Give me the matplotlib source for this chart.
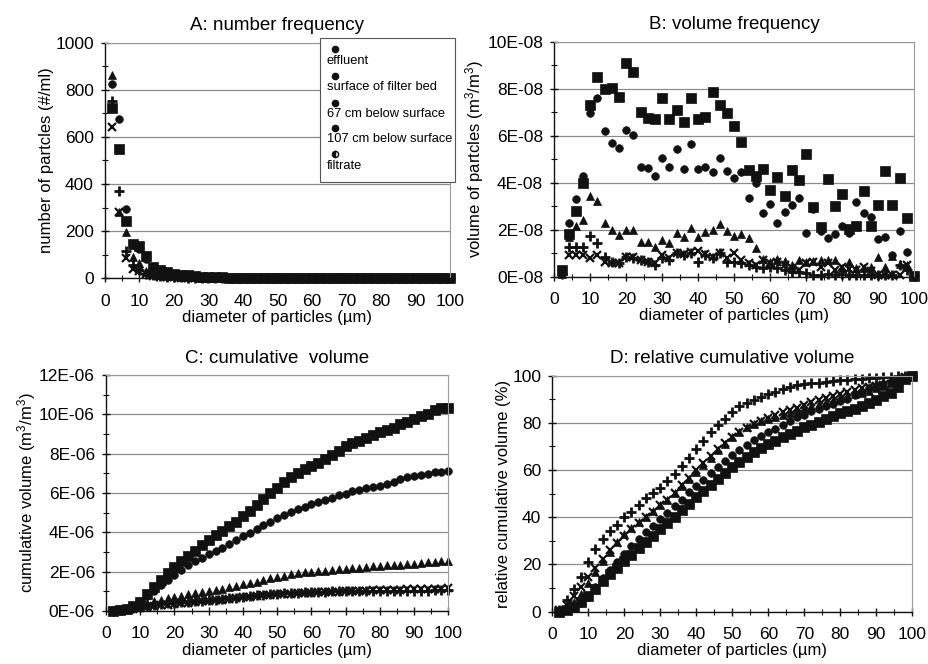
import numpy as np
import matplotlib
matplotlib.use("Agg")
import matplotlib.pyplot as plt
from matplotlib.ticker import MultipleLocator, FuncFormatter
from matplotlib.patches import Rectangle

plt.rcParams['font.family'] = ['Liberation Sans', 'DejaVu Sans']
plt.rcParams['mathtext.fontset'] = 'custom'
plt.rcParams['mathtext.rm'] = 'Liberation Sans'
plt.rcParams['mathtext.default'] = 'regular'

# === data: particle diameter classes (um) ===
diam = [2, 4, 6, 8, 10, 12, 14, 16, 18, 20, 22, 24, 26, 28, 30, 32, 34, 36, 38, 40,
        42, 44, 46, 48, 50, 52, 54, 56, 58, 60, 62, 64, 66, 68, 70, 72, 74, 76, 78, 80,
        82, 84, 86, 88, 90, 92, 94, 96, 98, 100]

series_names = ['effluent', 'surface of filter bed', '67 cm below surface',
                '107 cm below surface', 'filtrate']

# A: number frequency (#/ml)
num_eff = [723, 547, 245, 145, 135, 95, 50, 35, 25, 20, 15, 12, 9, 7, 6, 5, 4, 3, 3, 2.5,
           2, 2, 1.5, 1.5, 1.2, 1, 0.8, 0.7, 0.7, 0.6, 0.5, 0.5, 0.5, 0.4, 0.4, 0.3, 0.3, 0.3, 0.3, 0.3,
           0.2, 0.2, 0.2, 0.2, 0.2, 0.2, 0.2, 0.2, 0.1, 0]
num_surf = [824, 676, 292, 140, 125, 80, 40, 28, 20, 16, 12, 9, 7, 6, 5, 4, 3.5, 3, 2.5, 2,
            1.8, 1.5, 1.3, 1.1, 1, 0.9, 0.7, 0.6, 0.5, 0.5, 0.4, 0.3, 0.3, 0.3, 0.2, 0.2, 0.2, 0.2, 0.2, 0.2,
            0.1, 0.1, 0.1, 0.1, 0.1, 0.1, 0.1, 0.1, 0.1, 0]
num_67 = [863, 280, 195, 90, 65, 30, 20, 14, 10, 8, 6, 5, 4, 3, 2.5, 2, 1.8, 1.5, 1.3, 1.1,
          1, 0.9, 0.8, 0.7, 0.6, 0.5, 0.4, 0.3, 0.3, 0.2, 0.2, 0.2, 0.2, 0.1, 0.1, 0.1, 0.1, 0.1, 0.1, 0.1,
          0.1, 0.1, 0.1, 0.1, 0.1, 0.1, 0.1, 0.1, 0.1, 0]
num_107 = [751, 369, 115, 55, 35, 20, 12, 8, 6, 5, 4, 3, 2.5, 2, 1.5, 1.2, 1, 0.8, 0.7, 0.6,
           0.5, 0.5, 0.4, 0.4, 0.3, 0.3, 0.3, 0.2, 0.2, 0.2, 0.1, 0.1, 0.1, 0.1, 0.1, 0.1, 0.1, 0.1, 0.1, 0.1,
           0, 0, 0, 0, 0, 0, 0, 0, 0, 0]
num_filt = [641, 281, 85, 40, 30, 18, 10, 7, 5, 4, 3, 2.5, 2, 1.5, 1.2, 1, 0.8, 0.7, 0.6, 0.5,
            0.5, 0.4, 0.4, 0.3, 0.3, 0.3, 0.2, 0.2, 0.2, 0.2, 0.1, 0.1, 0.1, 0.1, 0.1, 0.1, 0.1, 0.1, 0.1, 0.1,
            0, 0, 0, 0, 0, 0, 0, 0, 0, 0]

# B: volume frequency (x 1E-08 m3/m3)
vol_eff = [0.3, 1.8, 2.8, 4.0, 7.3, 8.5, 8.0, 8.05, 7.65, 9.1, 8.7, 7.0, 6.75, 6.7, 7.6, 6.7, 7.1, 6.6, 7.6, 6.7,
           6.8, 7.85, 7.3, 6.95, 6.4, 5.75, 4.55, 4.3, 4.6, 3.7, 4.25, 3.45, 4.55, 4.1, 5.2, 2.95, 2.1, 4.15, 3.0, 3.5,
           2.05, 2.15, 3.65, 2.15, 3.05, 4.5, 3.05, 4.2, 2.5, 0.05]
vol_surf = [0.25, 2.3, 3.3, 4.28, 6.95, 7.59, 6.21, 5.70, 5.49, 6.24, 6.03, 4.68, 4.61, 4.30, 5.04, 4.68, 5.43, 4.57, 5.65, 4.57,
            4.68, 4.47, 5.06, 4.51, 4.18, 4.47, 3.33, 3.97, 2.70, 3.09, 2.30, 2.77, 3.05, 3.34, 1.85, 2.9, 1.95, 1.63, 1.8, 2.16,
            1.84, 3.17, 2.73, 2.55, 1.59, 1.69, 0.92, 1.93, 1.06, 0.05]
vol_67 = [0.1, 1.7, 2.16, 2.41, 3.43, 3.22, 2.27, 1.99, 1.77, 1.99, 1.99, 1.46, 1.46, 1.28, 1.56, 1.42, 1.87, 1.67, 2.06, 1.70,
          1.91, 1.99, 2.24, 1.94, 1.73, 1.80, 1.63, 1.21, 0.75, 0.64, 0.74, 0.68, 0.5, 0.71, 0.64, 0.68, 0.71, 0.71, 0.71, 0.35,
          0.64, 0.35, 0.38, 0.43, 0.82, 0.42, 0.9, 0.55, 0.5, 0.05]
vol_107 = [0.1, 1.28, 1.28, 1.28, 1.73, 1.42, 0.85, 0.64, 0.57, 0.85, 0.78, 0.71, 0.64, 0.5, 0.78, 0.71, 0.99, 0.92, 0.99, 0.64,
           0.92, 0.78, 0.99, 0.64, 0.64, 0.57, 0.5, 0.43, 0.35, 0.43, 0.35, 0.28, 0.21, 0.21, 0.14, 0.07, 0.07, 0.1, 0.07, 0.11,
           0.07, 0.06, 0.06, 0.06, 0.06, 0.06, 0.06, 0.5, 0.3, 0.05]
vol_filt = [0.1, 0.92, 0.92, 0.92, 0.78, 0.92, 0.64, 0.57, 0.57, 0.85, 0.85, 0.71, 0.64, 0.57, 0.92, 0.78, 0.99, 0.96, 1.06, 1.1,
            0.96, 0.85, 1.02, 0.78, 0.99, 0.71, 0.57, 0.5, 0.71, 0.57, 0.64, 0.5, 0.35, 0.28, 0.57, 0.64, 0.43, 0.57, 0.28, 0.43,
            0.31, 0.28, 0.43, 0.25, 0.07, 0.07, 0.07, 0.07, 0.5, 0.05]

# C: cumulative volume (x 1E-06 m3/m3)
cum_eff = [0.01, 0.05, 0.12, 0.25, 0.47, 0.85, 1.24, 1.6, 1.92, 2.25, 2.55, 2.82, 3.07, 3.35, 3.6, 3.85, 4.08, 4.3, 4.55, 4.82,
           5.1, 5.38, 5.68, 5.98, 6.28, 6.55, 6.8, 7.02, 7.2, 7.38, 7.55, 7.75, 7.95, 8.15, 8.38, 8.52, 8.64, 8.82, 8.97, 9.12,
           9.22, 9.33, 9.5, 9.62, 9.75, 9.92, 10.03, 10.2, 10.3, 10.32]
cum_surf = [0.01, 0.05, 0.12, 0.25, 0.45, 0.75, 1.02, 1.3, 1.57, 1.85, 2.1, 2.33, 2.52, 2.7, 2.88, 3.05, 3.22, 3.4, 3.6, 3.8,
            3.98, 4.16, 4.36, 4.55, 4.72, 4.9, 5.03, 5.18, 5.3, 5.43, 5.52, 5.63, 5.75, 5.88, 5.96, 6.08, 6.16, 6.23, 6.3, 6.38,
            6.46, 6.58, 6.69, 6.79, 6.86, 6.93, 6.97, 7.05, 7.09, 7.1]
cum_67 = [0.0, 0.04, 0.1, 0.18, 0.3, 0.42, 0.5, 0.57, 0.64, 0.71, 0.78, 0.84, 0.9, 0.95, 1.01, 1.07, 1.14, 1.2, 1.28, 1.35,
          1.42, 1.5, 1.58, 1.66, 1.73, 1.8, 1.86, 1.92, 1.97, 2.0, 2.03, 2.06, 2.09, 2.12, 2.15, 2.18, 2.21, 2.24, 2.27, 2.29,
          2.32, 2.34, 2.36, 2.38, 2.41, 2.43, 2.47, 2.5, 2.53, 2.55]
cum_107 = [0.01, 0.05, 0.1, 0.15, 0.22, 0.28, 0.32, 0.36, 0.39, 0.42, 0.45, 0.48, 0.5, 0.53, 0.55, 0.58, 0.61, 0.65, 0.68, 0.72,
           0.76, 0.8, 0.83, 0.86, 0.89, 0.92, 0.93, 0.94, 0.96, 0.97, 0.98, 0.99, 1.0, 1.01, 1.01, 1.02, 1.02, 1.02, 1.03, 1.03,
           1.03, 1.03, 1.04, 1.04, 1.04, 1.04, 1.04, 1.05, 1.05, 1.05]
cum_filt = [0.01, 0.03, 0.07, 0.12, 0.17, 0.21, 0.26, 0.3, 0.33, 0.37, 0.4, 0.43, 0.46, 0.49, 0.52, 0.55, 0.58, 0.62, 0.65, 0.69,
            0.72, 0.76, 0.79, 0.82, 0.85, 0.87, 0.89, 0.91, 0.93, 0.94, 0.96, 0.97, 0.98, 0.99, 1.01, 1.02, 1.03, 1.04, 1.05, 1.06,
            1.07, 1.08, 1.09, 1.1, 1.1, 1.11, 1.11, 1.11, 1.14, 1.15]

# D: relative cumulative volume (%)
rel_eff = [0, 0.6, 2.0, 4.0, 6.8, 9.8, 12.9, 15.8, 18.6, 21.4, 24.1, 26.8, 29.5, 32.2, 34.9, 37.6, 40.3, 43.0, 45.7, 48.4,
           51.0, 53.6, 56.2, 58.7, 61.1, 63.4, 65.6, 67.6, 69.4, 71.0, 72.5, 73.9, 75.3, 76.7, 78.1, 79.3, 80.4, 81.6, 82.8, 84.0,
           85.0, 86.0, 87.3, 88.4, 89.6, 91.2, 92.8, 95.0, 98.5, 100]
rel_surf = [0.1, 0.7, 1.8, 3.6, 6.4, 10.5, 14.2, 17.8, 20.9, 24.3, 27.8, 31.0, 33.9, 36.5, 39.3, 41.9, 44.9, 47.5, 50.6, 53.4,
            56.0, 58.6, 61.3, 63.9, 66.3, 68.6, 70.6, 72.7, 74.5, 76.2, 77.6, 79.1, 80.7, 82.3, 83.5, 84.9, 86.0, 87.0, 88.0, 89.1,
            90.2, 91.8, 93.3, 94.7, 95.6, 96.6, 97.2, 98.4, 99.6, 100]
rel_67 = [0.2, 1.5, 4, 7.5, 12, 17, 21.5, 25.5, 29.5, 32.8, 35.5, 38, 40.3, 42.5, 45, 47.5, 50.3, 53.2, 56.3, 59.3,
          62.3, 65.2, 68.3, 71.2, 74, 76.3, 78.2, 79.6, 80.7, 81.6, 82.6, 83.5, 84.3, 85.3, 86.2, 87.1, 88.0, 88.9, 89.8, 90.5,
          91.4, 92.1, 92.8, 93.6, 94.7, 95.5, 96.7, 97.8, 98.9, 100]
rel_107 = [0.7, 5, 9.5, 14.5, 21, 26.5, 30.7, 34, 36.8, 40, 42.4, 45.3, 48, 50.3, 52.6, 55.2, 58.3, 61.6, 65.2, 69,
           72.4, 76, 79, 81.8, 84.5, 87.3, 88.5, 89.5, 91.1, 92.2, 93.2, 94.5, 95.2, 95.9, 96.4, 96.8, 97.1, 97.4, 97.7, 98.1,
           98.3, 98.5, 98.7, 98.9, 99.1, 99.3, 99.5, 99.8, 99.9, 100]
rel_filt = [0.5, 3, 6.5, 10.5, 14.5, 18.5, 22.5, 26, 29, 32, 35, 37.5, 40, 42.3, 45, 47.5, 50.5, 53.5, 56.8, 60,
            63, 65.8, 68.8, 71.3, 74, 76, 77.8, 79.4, 80.8, 82.1, 83.4, 84.6, 85.6, 86.5, 87.6, 88.7, 89.6, 90.7, 91.4, 92.3,
            93, 93.8, 94.7, 95.3, 95.7, 96.1, 96.5, 96.9, 99.5, 100]

# === styles ===
INK = '#111111'
STYLES = [
    dict(marker='s', ms=7.5, mfc=INK, mec=INK, mew=0.5),
    dict(marker='o', ms=5.5, mfc=INK, mec=INK, mew=0.5),
    dict(marker='^', ms=6.0, mfc=INK, mec=INK, mew=0.5),
    dict(marker='+', ms=7.0, mec=INK, mew=2.0),
    dict(marker='x', ms=5.5, mec=INK, mew=1.6),
]


def setup(ax, ymax, ystep, title, ylabel, fmt=None):
    ax.set_xlim(0, 100)
    ax.set_ylim(0, ymax)
    ax.xaxis.set_major_locator(MultipleLocator(10))
    ax.xaxis.set_minor_locator(MultipleLocator(5))
    ax.yaxis.set_major_locator(MultipleLocator(ystep))
    ax.yaxis.set_minor_locator(MultipleLocator(ystep / 2))
    if fmt is not None:
        ax.yaxis.set_major_formatter(FuncFormatter(fmt))
    ax.grid(axis='y', which='major', color='#8c8c8c', lw=0.9)
    ax.set_axisbelow(True)
    ax.tick_params(which='major', direction='inout', length=6, width=1, labelsize=12.5, color=INK)
    ax.tick_params(which='minor', direction='inout', length=4, width=0.8, color=INK)
    ax.tick_params(axis='x', pad=8)
    ax.tick_params(axis='y', pad=5)
    for s in ['top', 'right']:
        ax.spines[s].set_color('#9a9a9a')
        ax.spines[s].set_linewidth(0.8)
    for s in ['left', 'bottom']:
        ax.spines[s].set_color(INK)
        ax.spines[s].set_linewidth(1.0)
    ax.set_title(title, fontsize=13.5, pad=9)
    ax.set_xlabel('diameter of particles (µm)', fontsize=12, labelpad=1)
    ax.set_ylabel(ylabel, fontsize=12, labelpad=1)


def scatter_all(ax, ys):
    for y, st in zip(ys, STYLES):
        ax.plot(diam, y, ls='none', clip_on=False, **st)


fig = plt.figure(figsize=(9.29, 6.64), dpi=100)

# A: number frequency
axA = fig.add_axes([0.1130, 0.5809, 0.3714, 0.3548])
setup(axA, 1000, 200, 'A: number frequency', 'number of partcles (#/ml)')
scatter_all(axA, [num_eff, num_surf, num_67, num_107, num_filt])

# legend box as in the original (marker above each label)
axA.add_patch(Rectangle((0.623, 0.41), 0.391, 0.61, transform=axA.transAxes,
                        fc='white', ec='#555555', lw=0.8, clip_on=False, zorder=5))
leg_marker_y = [0.972, 0.859, 0.745, 0.637, 0.528]
leg_text_y = [0.924, 0.811, 0.698, 0.590, 0.478]
for i, name in enumerate(series_names):
    fs = 'left' if i == 4 else 'full'
    axA.plot([0.667], [leg_marker_y[i]], transform=axA.transAxes, marker='o', ms=4.5,
             mfc=INK, mec=INK, fillstyle=fs, mfcalt='white', ls='none', clip_on=False, zorder=6)
    axA.text(0.643, leg_text_y[i], name, transform=axA.transAxes, fontsize=9.3,
             va='center', ha='left', zorder=6)

# B: volume frequency
axB = fig.add_axes([0.5967, 0.5833, 0.3872, 0.3539])
setup(axB, 10e-8, 2e-8, 'B: volume frequency', 'volume of partcles (m$^{3}$/m$^{3}$)',
      fmt=lambda v, p: f"{v / 1e-8:.0f}E-08")
scatter_all(axB, [np.array(v) * 1e-8 for v in [vol_eff, vol_surf, vol_67, vol_107, vol_filt]])

# C: cumulative volume
axC = fig.add_axes([0.1141, 0.0798, 0.3685, 0.3554])
setup(axC, 12e-6, 2e-6, 'C: cumulative  volume', 'cumulative volume (m$^{3}$/m$^{3}$)',
      fmt=lambda v, p: f"{v / 1e-6:.0f}E-06")
scatter_all(axC, [np.array(v) * 1e-6 for v in [cum_eff, cum_surf, cum_67, cum_107, cum_filt]])

# D: relative cumulative volume
axD = fig.add_axes([0.5945, 0.0788, 0.3875, 0.3554])
setup(axD, 100, 20, 'D: relative cumulative volume', 'relative cumulative volume (%)')
scatter_all(axD, [rel_eff, rel_surf, rel_67, rel_107, rel_filt])

fig.savefig('out.png', dpi=100)
